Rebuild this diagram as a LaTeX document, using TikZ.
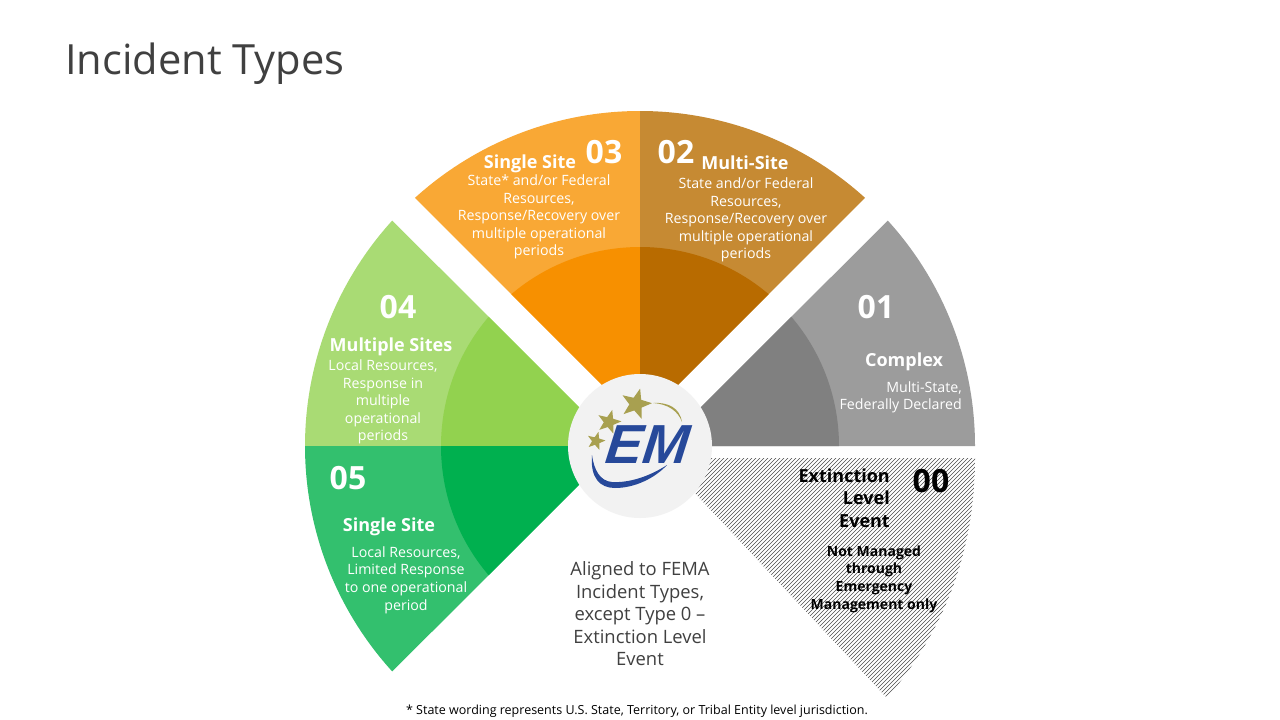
\documentclass[tikz,border=0pt]{standalone}
\usepackage{fontspec}
\setmainfont{Open Sans}
\newfontfamily\logofont{Liberation Sans}
\usetikzlibrary{shapes.geometric}
\definecolor{cA}{HTML}{F9A835}\definecolor{cAi}{HTML}{F79000}
\definecolor{cB}{HTML}{C68A33}\definecolor{cBi}{HTML}{B86B00}
\definecolor{cC}{HTML}{9C9C9C}\definecolor{cCi}{HTML}{808080}
\definecolor{cD}{HTML}{A9DB74}\definecolor{cDi}{HTML}{92D24F}
\definecolor{cE}{HTML}{33C06E}\definecolor{cEi}{HTML}{00B04F}
\definecolor{tgray}{HTML}{404040}\definecolor{lgold}{HTML}{A8A050}\definecolor{lblue}{HTML}{27499A}
\tikzset{
 x=1pt,y=1pt,
 num/.style={inner sep=0,font=\fontsize{32}{32}\selectfont\bfseries,text=white,yshift=-0.5pt},
 head/.style={inner sep=0,font=\fontsize{18}{22}\selectfont\bfseries,text=white,yshift=-2pt},
 bodytext/.style={inner sep=0,align=center,font=\fontsize{14.2}{17.6}\selectfont,text=white,yshift=-1.5pt},
 goldstar/.style={star,star points=5,star point ratio=2.4,fill=lgold,inner sep=0,minimum size=#1}
}
\newcommand{\sector}[5]{% apex, start, end, outer, inner
 \begin{scope}
 \path (640,-446) ++(#2:335) coordinate (rimstart);
 \clip #1 -- (rimstart) arc[start angle=#2,end angle=#3,radius=335] -- cycle;
 \fill[#4] (300,-780) rectangle (980,-100);
 \fill[#5] (640,-446) circle[radius=199];
 \end{scope}}
\begin{document}
\begin{tikzpicture}
\useasboundingbox (0,0) rectangle (1280,-720);
\fill[white] (0,0) rectangle (1280,-720);
\node[inner sep=0,anchor=west,text=tgray,font=\fontsize{41.6}{46}\selectfont] (title) at (65,-64) {Incident Types};

\sector{(640,-423)}{132.2}{90}{cA}{cAi}
\sector{(640,-423)}{90}{47.8}{cB}{cBi}
\sector{(662,-446)}{0}{42.3}{cC}{cCi}
\sector{(618,-446)}{180}{137.7}{cD}{cDi}
\sector{(618,-446)}{180}{222.3}{cE}{cEi}

\begin{scope}
 \clip (662,-458) -- (975,-458) .. controls (975,-550) and (945,-630) .. (887,-698) -- cycle;
 \foreach \k in {0,4,...,600} {\draw[black!70,line width=0.55pt] (400+\k,-710) -- ++(280,280);}
\end{scope}

\node[circle,fill=black!5,minimum size=144,inner sep=0] (hub) at (640,-446) {};
\node[goldstar=32,rotate=-15] (s1) at (636,-404) {};
\node[goldstar=25,rotate=-15] (s2) at (609,-422) {};
\node[goldstar=19,rotate=-15] (s3) at (596,-441) {};
\fill[lgold] (653,-403) .. controls (668,-402) and (680,-408) .. (682,-422) .. controls (678,-411) and (668,-404) .. cycle;
\fill[lblue] (592,-455) .. controls (590,-478) and (600,-488) .. (615,-488) .. controls (635,-488) and (655,-478) .. (667,-465) .. controls (650,-476) and (630,-483) .. (612,-482) .. controls (600,-481) and (594,-470) .. cycle;
\node[inner sep=0,text=lblue,xslant=0.12,font=\logofont\fontsize{55}{56}\selectfont\bfseries\itshape] (em) at (648,-445) {EM};

\node[num] (n3) at (604,-152) {03};
\node[head] (h3) at (530,-162) {Single Site};
\node[bodytext] (b3) at (539,-215.5) {State* and/or Federal\\Resources,\\Response/Recovery over\\multiple operational\\periods};
\node[num] (n2) at (676,-152) {02};
\node[head] (h2) at (745,-161) {Multi-Site};
\node[bodytext] (b2) at (746,-218.5) {State and/or Federal\\Resources,\\Response/Recovery over\\multiple operational\\periods};
\node[num] (n1) at (876,-307) {01};
\node[head] (h1) at (904,-360) {Complex};
\node[bodytext,align=right,anchor=east] (b1) at (962,-396) {Multi-State,\\Federally Declared};
\node[num] (n4) at (398,-307) {04};
\node[head] (h4) at (391,-345) {Multiple Sites};
\node[bodytext] (b4) at (383,-400.5) {Local Resources,\\Response in\\multiple\\operational\\periods};
\node[num] (n5) at (348,-478) {05};
\node[head] (h5) at (389,-525) {Single Site};
\node[bodytext] (b5) at (406,-578.5) {Local Resources,\\Limited Response\\to one operational\\period};
\node[num,text=black] (n0) at (931,-481) {00};
\node[head,text=black,align=right,anchor=east,font=\fontsize{18}{22.5}\selectfont\bfseries] (h0) at (890,-496) {Extinction\\Level\\Event};
\node[bodytext,text=black,font=\fontsize{14}{17.6}\selectfont\bfseries] (b0) at (874,-577.5) {Not Managed\\through\\Emergency\\Management only};
\node[inner sep=0,align=center,text=tgray,font=\fontsize{18.4}{22.5}\selectfont] (note) at (640,-614) {Aligned to FEMA\\Incident Types,\\except Type 0 --\\Extinction Level\\Event};
\node[inner sep=0,text=black,font=\fontsize{12.5}{14}\selectfont] (foot) at (637,-711) {* State wording represents U.S. State, Territory, or Tribal Entity level jurisdiction.};
\end{tikzpicture}
\end{document}
